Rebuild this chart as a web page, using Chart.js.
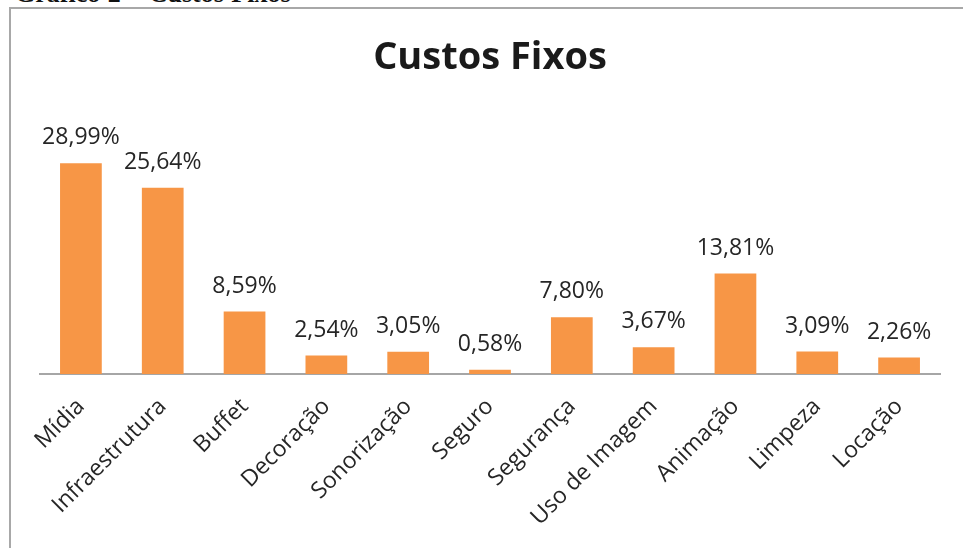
<!DOCTYPE html>
<html>
<head>
<meta charset="utf-8">
<script src="https://cdn.jsdelivr.net/npm/chart.js@4"></script>
<style>
  html, body { margin: 0; padding: 0; background: #fff; width: 963px; height: 548px; overflow: hidden; }
  #frame { position: absolute; left: 9px; top: 7px; width: 1000px; height: 600px; border: 2px solid #a8a8a8; box-sizing: border-box; }
  #caption { position: absolute; left: 15px; top: -19px; font-family: "Liberation Serif", "DejaVu Serif", serif; font-weight: bold; font-size: 26px; line-height: 26px; color: #111; white-space: nowrap; word-spacing: 1px; }
  #c { position: absolute; left: 0; top: 0; }
</style>
</head>
<body>
<div id="caption">Gráfico 2 – Custos Fixos</div>
<div id="frame"></div>
<canvas id="c" width="963" height="548"></canvas>
<script>
const categories = ["Mídia", "Infraestrutura", "Buffet", "Decoração", "Sonorização", "Seguro", "Segurança", "Uso de Imagem", "Animação", "Limpeza", "Locação"];
const percentages = [28.99, 25.64, 8.59, 2.54, 3.05, 0.58, 7.80, 3.67, 13.81, 3.09, 2.26];
const chartTitle = "Custos Fixos";
const yMax = 35;

const FONT = "'Open Sans', sans-serif";
const TEXT = "#262626";

const valueLabels = {
  id: 'valueLabels',
  afterDatasetsDraw(chart) {
    const ctx = chart.ctx;
    const meta = chart.getDatasetMeta(0);
    ctx.save();
    ctx.font = "23px " + FONT;
    ctx.fillStyle = TEXT;
    ctx.textAlign = 'center';
    ctx.textBaseline = 'alphabetic';
    meta.data.forEach((el, i) => {
      const v = chart.data.datasets[0].data[i];
      const txt = v.toFixed(2).replace('.', ',') + '%';
      ctx.fillText(txt, el.x, el.y - 19);
    });
    ctx.restore();
  }
};

new Chart(document.getElementById('c'), {
  type: 'bar',
  data: {
    labels: categories,
    datasets: [{
      data: percentages,
      backgroundColor: '#F79646',
      borderWidth: 0,
      categoryPercentage: 1.0,
      barPercentage: 0.51
    }]
  },
  options: {
    responsive: false,
    animation: false,
    devicePixelRatio: 1,
    layout: { padding: { left: 40, right: 23, top: 0, bottom: 0 } },
    plugins: {
      legend: { display: false },
      tooltip: { enabled: false },
      title: {
        display: true,
        text: chartTitle,
        color: '#1a1a1a',
        font: { family: FONT, size: 38, weight: 'bold', lineHeight: 1.2 },
        padding: { top: 35.4, bottom: 38.6 }
      }
    },
    scales: {
      y: {
        display: false,
        min: 0,
        max: yMax
      },
      x: {
        offset: true,
        grid: { display: false, drawTicks: false },
        border: { display: true, color: '#a6a6a6', width: 2 },
        ticks: {
          color: TEXT,
          font: { family: FONT, size: 23 },
          minRotation: 45,
          maxRotation: 45,
          padding: 19,
          autoSkip: false
        },
        afterFit(scale) { scale.height = 174; }
      }
    }
  },
  plugins: [valueLabels]
});
</script>
</body>
</html>
